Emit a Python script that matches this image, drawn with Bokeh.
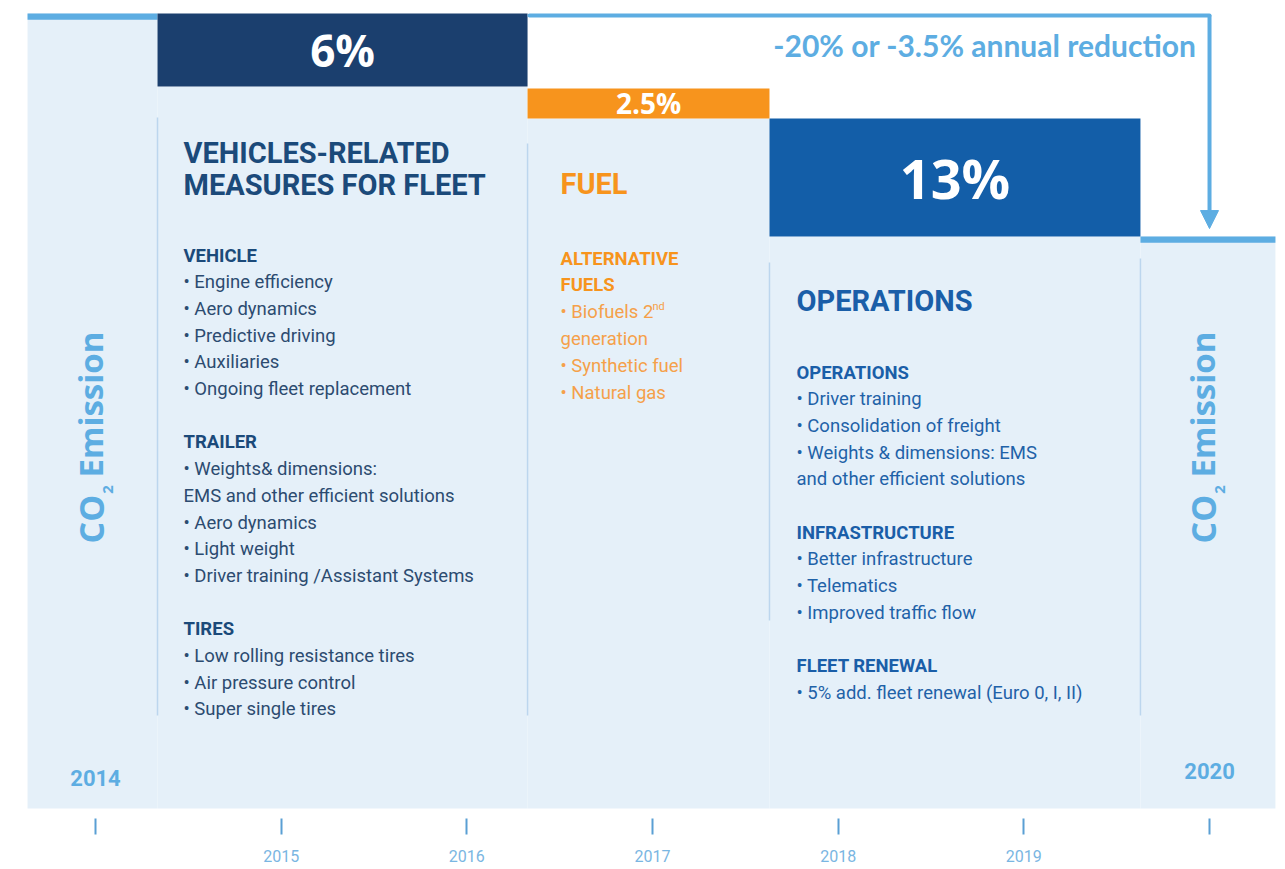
import math
from bokeh.plotting import figure
from bokeh.models import Range1d, FixedTicker, Arrow, NormalHead
from bokeh.core.properties import value
from bokeh.embed import file_html
from bokeh.resources import INLINE

# ---------------- data ----------------
years = [2014, 2015, 2016, 2017, 2018, 2019, 2020]
year_labels = ["2014", "2015", "2016", "2017", "2018", "2019", "2020"]

# column edges (in years) for: 2014 | vehicles | fuel | operations | 2020
col_edges = [2013.634, 2014.334, 2016.327, 2017.630, 2019.628, 2020.355]

# emission index (2014 = 100) as drawn in the picture
base_levels = [100.0, 71.95]          # 2014 level, 2020 level
step_labels = ["6%", "2.5%", "13%"]
step_tops = [100.0, 90.57, 86.79]
step_bottoms = [90.82, 86.79, 71.95]
total_label = "-20% or -3.5% annual reduction"

col1_heading = ["VEHICLES-RELATED", "MEASURES FOR FLEET"]
col1_lines = [
    ("VEHICLE", True), ("• Engine efficiency", False), ("• Aero dynamics", False),
    ("• Predictive driving", False), ("• Auxiliaries", False),
    ("• Ongoing fleet replacement", False), ("", False),
    ("TRAILER", True), ("• Weights& dimensions:", False),
    ("EMS and other efficient solutions", False), ("• Aero dynamics", False),
    ("• Light weight", False), ("• Driver training /Assistant Systems", False), ("", False),
    ("TIRES", True), ("• Low rolling resistance tires", False),
    ("• Air pressure control", False), ("• Super single tires", False),
]
col3_heading = ["FUEL"]
col3_lines = [
    ("ALTERNATIVE", True), ("FUELS", True), ("• Biofuels 2", False),
    ("generation", False), ("• Synthetic fuel", False), ("• Natural gas", False),
]
col4_heading = ["OPERATIONS"]
col4_lines = [
    ("OPERATIONS", True), ("• Driver training", False), ("• Consolidation of freight", False),
    ("• Weights & dimensions: EMS", False), ("and other efficient solutions", False), ("", False),
    ("INFRASTRUCTURE", True), ("• Better infrastructure", False), ("• Telematics", False),
    ("• Improved traffic flow", False), ("", False),
    ("FLEET RENEWAL", True), ("• 5% add. fleet renewal (Euro 0, I, II)", False),
]

# ---------------- layout helpers ----------------
W, FH = 1280, 818
SCX = 185.67                      # px per year
X0 = 2014 - 95 / SCX              # x range start
K = 7.95                          # px per index unit
Y_END = 808 / K
Y_START = Y_END - FH / K


def px2x(px):
    return X0 + px / SCX


def px2y(py):
    return Y_END - py / K


LIGHT = "#e5f0f9"
SKY = "#5dade2"
NAVY = "#1b3f6e"
ORANGE = "#f7941d"
BLUE = "#135ea8"
BODY = "18.5px"

p = figure(frame_width=W, frame_height=FH, output_backend="svg", toolbar_location=None,
           x_range=Range1d(X0, X0 + W / SCX), y_range=Range1d(Y_START, Y_END),
           min_border_left=0, min_border_right=0, min_border_top=0, min_border_bottom=0,
           y_axis_location=None)
p.outline_line_color = None
p.grid.visible = False
p.background_fill_color = "white"

# light background per column
fill_tops = [base_levels[0]] + step_bottoms + [base_levels[1]]
p.quad(left=col_edges[:-1], right=col_edges[1:], bottom=[0] * 5, top=fill_tops,
       fill_color=LIGHT, line_color=None)

# baseline stripes (2014, 2020)
p.quad(left=[col_edges[0], col_edges[4]], right=[col_edges[1], col_edges[5]],
       top=base_levels, bottom=[b - 0.8 for b in base_levels], fill_color=SKY, line_color=None)

# step bars
p.quad(left=col_edges[1:4], right=col_edges[2:5], top=step_tops, bottom=step_bottoms,
       fill_color=[NAVY, ORANGE, BLUE], line_color=None)

mids_x = [(col_edges[i] + col_edges[i + 1]) / 2 for i in range(1, 4)]
mids_y = [(t + b) / 2 for t, b in zip(step_tops, step_bottoms)]
for i, size in enumerate(["44px", "28px", "54px"]):
    p.text(x=mids_x[i:i + 1], y=mids_y[i:i + 1], text=step_labels[i:i + 1], text_color="white",
           text_font=value("Open Sans"), text_font_style="bold", text_font_size=size,
           text_align="center", text_baseline="middle")

# total reduction arrow
line_lvl = base_levels[0] - 0.25
p.line(x=[col_edges[2] + 0.01, years[-1]], y=[line_lvl, line_lvl], line_color=SKY,
       line_width=4, line_cap="round")
p.add_layout(Arrow(end=NormalHead(size=18, fill_color=SKY, line_color=SKY),
                   x_start=years[-1], y_start=line_lvl, x_end=years[-1],
                   y_end=base_levels[1] + 1.0, line_color=SKY, line_width=4))
p.text(x=[px2x(1196)], y=[px2y(44)], text=[total_label], text_color=SKY,
       text_font=value("Lato"), text_font_style="bold", text_font_size="30px",
       text_align="right", text_baseline="middle")

# separators
sep_y = [(117, 715), (143, 715), (262, 620), (258, 715)]
p.segment(x0=col_edges[1:5], x1=col_edges[1:5], y0=[px2y(a) for a, b in sep_y],
          y1=[px2y(b) for a, b in sep_y], line_color="#bcd6ee", line_width=1.5)


def block(lines, x_px, y0_px, step, color_head, color_item, size=BODY):
    xs = px2x(x_px)
    bt, bx, by, nt, nx, ny = [], [], [], [], [], []
    for i, (t, bold) in enumerate(lines):
        if not t:
            continue
        yy = px2y(y0_px + i * step)
        if bold:
            bt.append(t); bx.append(xs); by.append(yy)
        else:
            nt.append(t); nx.append(xs); ny.append(yy)
    p.text(x=bx, y=by, text=bt, text_color=color_head, text_font=value("Roboto"),
           text_font_style="bold", text_font_size=size, text_baseline="middle")
    p.text(x=nx, y=ny, text=nt, text_color=color_item, text_font=value("Roboto"),
           text_font_size=size, text_baseline="middle")


def heading(lines, x_px, y0_px, step, color):
    p.text(x=[px2x(x_px)] * len(lines), y=[px2y(y0_px + i * step) for i in range(len(lines))],
           text=lines, text_color=color, text_font=value("Roboto"), text_font_style="bold",
           text_font_size="29px", text_baseline="middle")


heading(col1_heading, 183, 152, 32, "#1b4a7a")
block(col1_lines, 183, 255, 26.7, "#1b4a7a", "#2c4b70")
heading(col3_heading, 560, 183, 32, ORANGE)
block(col3_lines, 560, 258, 26.8, ORANGE, "#f5a04a")
p.text(x=[px2x(652)], y=[px2y(306)], text=["nd"], text_color="#f5a04a",
       text_font=value("Roboto"), text_font_size="11px", text_baseline="middle")
heading(col4_heading, 796, 300, 32, "#1a5ea8")
block(col4_lines, 796, 372, 26.67, "#1a5ea8", "#1f62a8")

# CO2 Emission vertical labels
for cx in (90, 1202):
    p.text(x=[px2x(cx)], y=[px2y(543)], text=["CO"], angle=math.pi / 2, text_color=SKY,
           text_font=value("Open Sans"), text_font_style="bold", text_font_size="34px",
           text_align="left", text_baseline="middle")
    p.text(x=[px2x(cx + 17)], y=[px2y(489)], text=["2"], angle=math.pi / 2, text_color=SKY,
           text_font=value("Open Sans"), text_font_style="bold", text_font_size="15px",
           text_align="center", text_baseline="middle")
    p.text(x=[px2x(cx)], y=[px2y(477)], text=["Emission"], angle=math.pi / 2, text_color=SKY,
           text_font=value("Open Sans"), text_font_style="bold", text_font_size="33px",
           text_align="left", text_baseline="middle")

# bold start / end year labels
p.text(x=[years[0], years[-1]], y=[px2y(777), px2y(770)], text=[year_labels[0], year_labels[-1]],
       text_color=SKY, text_font=value("Roboto"), text_font_style="bold", text_font_size="22px",
       text_align="center", text_baseline="middle")

# x axis
ax = p.xaxis[0]
ax.ticker = FixedTicker(ticks=years)
ax.major_label_overrides = {years[i]: (year_labels[i] if 0 < i < len(years) - 1 else "")
                            for i in range(len(years))}
ax.axis_line_color = None
ax.minor_tick_line_color = None
ax.major_tick_in = 0
ax.major_tick_out = 16
ax.major_tick_line_color = "#5a9fd4"
ax.major_tick_line_width = 2
ax.major_label_standoff = 15
ax.major_label_text_font = "Roboto"
ax.major_label_text_font_size = "16px"
ax.major_label_text_color = "#7ab6e2"

open("out.html", "w").write(file_html(p, INLINE))
